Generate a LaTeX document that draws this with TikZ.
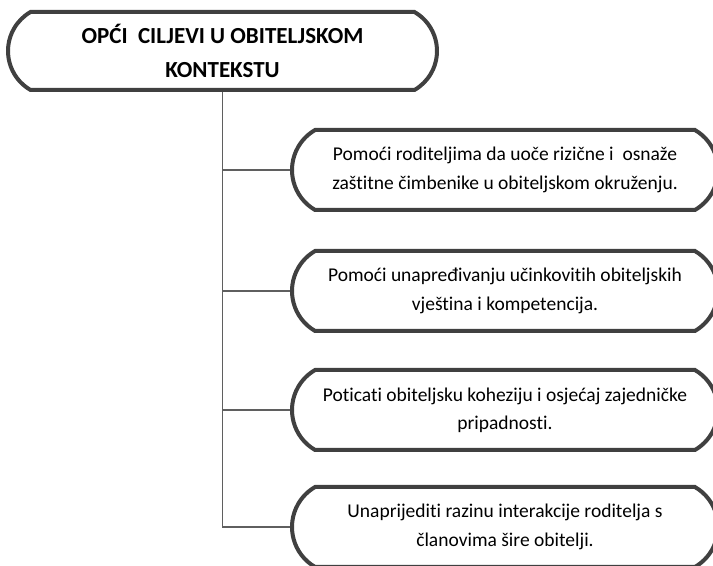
\documentclass[tikz,border=0pt]{standalone}
\usepackage{fontspec}
\setmainfont[Ligatures={NoCommon}]{Carlito}
\usepackage{tikz}
\usetikzlibrary{shapes.misc}
\definecolor{BoxBorder}{RGB}{64,64,64}
\definecolor{TrunkGray}{RGB}{95,95,95}

\tikzset{
  goalbox/.style={rounded rectangle, rounded rectangle arc length=120, draw=BoxBorder,
    line width=2.4pt, fill=white, align=center, minimum width=426*0.6pt,
    minimum height=80*0.6pt, inner sep=0pt, font=\fontsize{11.7}{17}\selectfont},
  titlebox/.style={goalbox, minimum width=429*0.6pt, minimum height=78*0.6pt,
    font=\bfseries\fontsize{13.8}{17.4}\selectfont},
  trunk/.style={draw=TrunkGray, line width=0.9pt}
}

\begin{document}
\begin{tikzpicture}[x=0.6pt, y=-0.6pt]
        \clip (0,0) rectangle (713,566);
        \fill[white] (0,0) rectangle (713,566);
        \node[titlebox] (naslov) at (222.5,51) {OPĆI\ \ CILJEVI U OBITELJSKOM\\[3pt]KONTEKSTU};
        \node[goalbox] (cilj1) at (505,170) {Pomoći roditeljima da uoče rizične i\ \ osnaže\\zaštitne čimbenike u obiteljskom okruženju.};
        \node[goalbox] (cilj2) at (505,291) {Pomoći unapređivanju učinkovitih obiteljskih\\vještina i kompetencija.};
        \node[goalbox] (cilj3) at (505,410) {Poticati obiteljsku koheziju i osjećaj zajedničke\\pripadnosti.};
        \node[goalbox] (cilj4) at (505,527) {Unaprijediti razinu interakcije roditelja s\\članovima šire obitelji.};
        \draw[trunk] (naslov.south) |- (cilj4.west);
        \draw[trunk] (naslov.south |- cilj1.west) -- (cilj1.west);
        \draw[trunk] (naslov.south |- cilj2.west) -- (cilj2.west);
        \draw[trunk] (naslov.south |- cilj3.west) -- (cilj3.west);
      \end{tikzpicture}
\end{document}
